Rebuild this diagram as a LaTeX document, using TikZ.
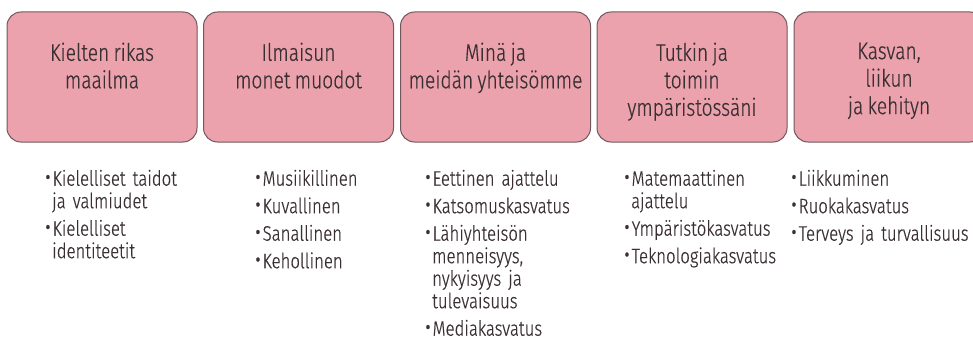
\documentclass[tikz,border=0pt]{standalone}
\usepackage{fontspec}
\setmainfont{Fira Sans Light}[FakeStretch=0.8,FakeBold=0.5,WordSpace=0.8]
\usetikzlibrary{positioning}

\definecolor{ruusu}{RGB}{236,162,172}
\definecolor{reuna}{RGB}{112,88,92}
\definecolor{teksti}{RGB}{58,48,52}

% bullet list for the items under each area
\newenvironment{kohdat}{\begin{list}{\raisebox{-1pt}{\fontsize{28}{28}\selectfont •}}{%
  \leftmargin=8pt \labelwidth=6pt \labelsep=1.5pt
  \itemsep=5pt \parsep=0pt \topsep=0pt \partopsep=0pt}\raggedright}{\end{list}}

\begin{document}
\begin{tikzpicture}[x=1pt,y=-1pt,
  alue/.style={draw=reuna, line width=1pt, fill=ruusu, rounded corners=14pt,
    minimum width=190pt, minimum height=130pt, inner sep=0pt},
  otsikko/.style={anchor=north, align=center, inner sep=0pt, text=teksti,
    font=\fontsize{24}{27.5}\selectfont},
  lista/.style={anchor=north west, inner sep=0pt, text width=240pt, text=teksti,
    font=\fontsize{21}{22.5}\selectfont}]
\useasboundingbox (0,0) rectangle (973,345);
\clip (0,0) rectangle (973,345);

% areas
\node[alue] (kieli) at (102,77) {};
\node[alue] (ilmaisu) at (298.5,77) {};
\node[alue] (mina) at (495.5,77) {};
\node[alue] (tutkin) at (692,77) {};
\node[alue] (kasvan) at (889,77) {};

\node[otsikko] (kieli-t) at ([yshift=-31pt]kieli.north) {Kielten rikas\\maailma};
\node[otsikko] (ilmaisu-t) at ([yshift=-31pt]ilmaisu.north) {Ilmaisun\\monet muodot};
\node[otsikko] (mina-t) at ([yshift=-31pt]mina.north) {Minä ja\\meidän yhteisömme};
\node[otsikko] (tutkin-t) at ([yshift=-31pt]tutkin.north) {Tutkin ja\\toimin\\ympäristössäni};
\node[otsikko] (kasvan-t) at ([yshift=-31pt]kasvan.north) {Kasvan,\\liikun\\ja kehityn};

% contents
\node[lista] (kieli-l) at (44,163) {\begin{kohdat}
  \item Kielelliset taidot\newline ja valmiudet
  \item Kielelliset\newline identiteetit
\end{kohdat}};
\node[lista] (ilmaisu-l) at (254,163) {\begin{kohdat}
  \item Musiikillinen
  \item Kuvallinen
  \item Sanallinen
  \item Kehollinen
\end{kohdat}};
\node[lista] (mina-l) at (424,163) {\begin{kohdat}
  \item Eettinen ajattelu
  \item Katsomuskasvatus
  \item Lähiyhteisön\newline menneisyys,\newline nykyisyys ja\newline tulevaisuus
  \item Mediakasvatus
\end{kohdat}};
\node[lista] (tutkin-l) at (623,163) {\begin{kohdat}
  \item Matemaattinen\newline ajattelu
  \item Ympäristökasvatus
  \item Teknologiakasvatus
\end{kohdat}};
\node[lista] (kasvan-l) at (790,163) {\begin{kohdat}
  \item Liikkuminen
  \item Ruokakasvatus
  \item Terveys ja turvallisuus
\end{kohdat}};
\end{tikzpicture}
\end{document}
